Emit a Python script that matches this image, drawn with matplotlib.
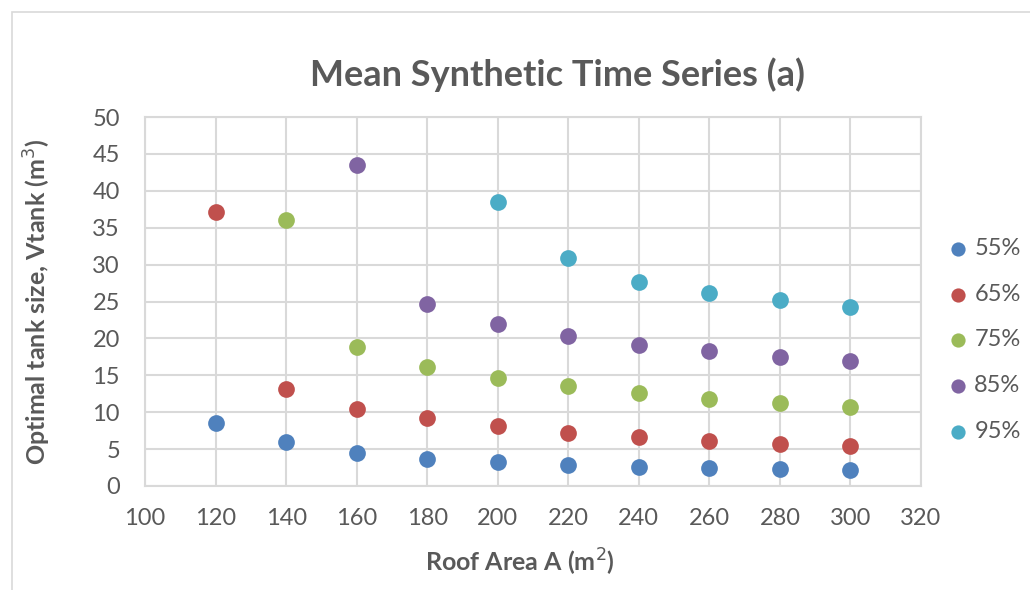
import matplotlib.pyplot as plt
from matplotlib.patches import Rectangle

plt.rcParams["font.family"] = ["Lato", "DejaVu Sans"]

roof_area = [120, 140, 160, 180, 200, 220, 240, 260, 280, 300]
series_labels = ["55%", "65%", "75%", "85%", "95%"]
colors = ["#4F81BD", "#C0504D", "#9BBB59", "#8064A2", "#4BACC6"]

# None = no point at that roof area
v55 = [8.5, 5.9, 4.5, 3.7, 3.2, 2.85, 2.6, 2.45, 2.25, 2.2]
v65 = [37.1, 13.2, 10.5, 9.2, 8.1, 7.2, 6.65, 6.15, 5.75, 5.4]
v75 = [None, 36.0, 18.8, 16.1, 14.6, 13.5, 12.6, 11.85, 11.25, 10.7]
v85 = [None, None, 43.5, 24.7, 21.9, 20.3, 19.1, 18.3, 17.5, 16.9]
v95 = [None, None, None, None, 38.5, 30.9, 27.7, 26.2, 25.2, 24.25]
series = [v55, v65, v75, v85, v95]

x_ticks = list(range(100, 321, 20))
y_ticks = list(range(0, 51, 5))

text_col = "#595959"
grid_col = "#D9D9D9"

fig = plt.figure(figsize=(10.3, 5.9), dpi=100)
fig.patches.append(Rectangle((12 / 1030, -0.1), 1.2, 1 - 12 / 590 + 0.1,
                             transform=fig.transFigure, fill=False,
                             edgecolor=grid_col, linewidth=1.2))
ax = fig.add_axes([145 / 1030, 1 - 486 / 590, (921 - 145) / 1030, (486 - 117) / 590])

for vals, lab, col in zip(series, series_labels, colors):
    xs = [x for x, v in zip(roof_area, vals) if v is not None]
    ys = [v for v in vals if v is not None]
    ax.scatter(xs, ys, s=145, color=col, label=lab, zorder=3, linewidths=0)

ax.set_xlim(100, 320)
ax.set_ylim(0, 50)
ax.set_xticks(x_ticks)
ax.set_yticks(y_ticks)
ax.grid(True, color=grid_col, linewidth=1.5)
ax.set_axisbelow(True)
for sp in ax.spines.values():
    sp.set_color(grid_col)
    sp.set_linewidth(1.5)
ax.tick_params(length=0, labelsize=17, labelcolor=text_col)
ax.tick_params(axis="x", pad=16)
ax.tick_params(axis="y", pad=18)

ax.set_xlabel("Roof Area A (m$^2$)", fontsize=18, fontweight="bold", color=text_col)
ax.set_ylabel("Optimal tank size, Vtank (m$^3$)", fontsize=18, fontweight="bold", color=text_col)
ax.xaxis.set_label_coords(0.483, -0.165)
ax.yaxis.set_label_coords(-0.119, 0.5)
fig.text(557 / 1030, 1 - 75 / 590, "Mean Synthetic Time Series (a)", ha="center", va="center",
         fontsize=26, fontweight="bold", color=text_col)

leg = ax.legend(loc="center left", bbox_to_anchor=(946 / 1030, 1 - 340 / 590),
                bbox_transform=fig.transFigure, frameon=False, fontsize=17,
                labelspacing=1.05, handlelength=1.0, handletextpad=0.2,
                borderpad=0, borderaxespad=0, markerscale=0.85)
for t in leg.get_texts():
    t.set_color(text_col)

fig.savefig("out.png", dpi=100)
